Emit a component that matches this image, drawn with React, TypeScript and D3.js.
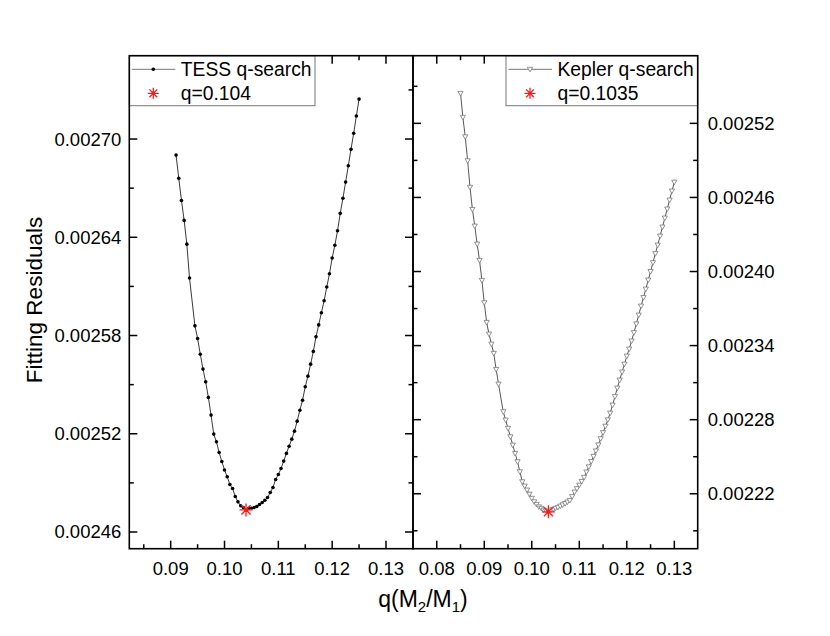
import React from "react";
import * as d3 from "d3";

// TESS q-search (left panel)
const tessQ = [
  0.091, 0.0915, 0.092, 0.0925, 0.093, 0.0935, 0.0945, 0.095, 0.0955, 0.096,
  0.0965, 0.097, 0.0975, 0.098, 0.0985, 0.099, 0.0995, 0.1, 0.1005, 0.101,
  0.1015, 0.102, 0.1025, 0.103, 0.1035, 0.104, 0.1045, 0.105, 0.1055, 0.106,
  0.1065, 0.107, 0.1075, 0.108, 0.1085, 0.109, 0.1095, 0.11, 0.1105, 0.111,
  0.1115, 0.112, 0.1125, 0.113, 0.1135, 0.114, 0.1145, 0.115, 0.1155, 0.116,
  0.1165, 0.117, 0.1175, 0.118, 0.1185, 0.119, 0.1195, 0.12, 0.1205, 0.121,
  0.1215, 0.122, 0.1225, 0.123, 0.1235, 0.124, 0.1245, 0.125,
];
const tessResidual = [
  0.0026902, 0.002676, 0.0026625, 0.0026503, 0.0026358, 0.0026151, 0.0025859, 0.0025782, 0.0025686, 0.0025595,
  0.0025517, 0.0025422, 0.0025314, 0.0025198, 0.0025151, 0.0025086, 0.0025031, 0.0024979, 0.0024937, 0.002489,
  0.0024866, 0.0024817, 0.0024784, 0.002476, 0.002475, 0.0024735, 0.0024744, 0.0024745, 0.002475, 0.0024756,
  0.0024768, 0.002478, 0.0024794, 0.0024811, 0.0024841, 0.0024872, 0.0024921, 0.0024951, 0.0024988, 0.0025033,
  0.002508, 0.0025124, 0.0025167, 0.0025216, 0.0025277, 0.0025344, 0.0025405, 0.0025487, 0.0025552, 0.0025625,
  0.0025703, 0.0025792, 0.0025865, 0.0025939, 0.0026012, 0.0026096, 0.0026177, 0.0026273, 0.0026351, 0.002644,
  0.0026546, 0.0026638, 0.0026737, 0.0026837, 0.0026937, 0.0027035, 0.0027141, 0.0027244,
];

// Kepler q-search (right panel)
const keplerQ = [
  0.085, 0.0855, 0.086, 0.0865, 0.087, 0.0875, 0.088, 0.0885, 0.089, 0.0895,
  0.09, 0.0905, 0.091, 0.0915, 0.092, 0.0925, 0.093, 0.094, 0.0945, 0.095,
  0.0955, 0.096, 0.0965, 0.097, 0.0975, 0.098, 0.0985, 0.099, 0.0995, 0.1,
  0.1005, 0.101, 0.1015, 0.102, 0.1025, 0.103, 0.1035, 0.104, 0.1045, 0.105,
  0.1055, 0.106, 0.1065, 0.107, 0.1075, 0.108, 0.1085, 0.109, 0.1095, 0.11,
  0.1105, 0.111, 0.1115, 0.112, 0.1125, 0.113, 0.1135, 0.114, 0.1145, 0.115,
  0.1155, 0.116, 0.1165, 0.117, 0.1175, 0.118, 0.1185, 0.119, 0.1195, 0.12,
  0.1205, 0.121, 0.1215, 0.122, 0.1225, 0.123, 0.1235, 0.124, 0.1245, 0.125,
  0.1255, 0.126, 0.1265, 0.127, 0.1275, 0.128, 0.1285, 0.129, 0.1295, 0.13,
];
const keplerResidual = [
  0.0025443, 0.0025249, 0.0025091, 0.0024897, 0.0024682, 0.0024503, 0.0024368, 0.0024222, 0.002409, 0.0023928,
  0.0023747, 0.0023588, 0.0023493, 0.0023412, 0.0023337, 0.0023207, 0.0023088, 0.0022864, 0.0022797, 0.002273,
  0.0022661, 0.0022594, 0.0022527, 0.0022459, 0.0022378, 0.0022297, 0.0022262, 0.002223, 0.0022197, 0.0022163,
  0.0022135, 0.0022114, 0.0022094, 0.0022082, 0.0022068, 0.002206, 0.0022054, 0.0022068, 0.0022073, 0.0022082,
  0.002209, 0.00221, 0.002211, 0.0022121, 0.0022133, 0.0022146, 0.0022177, 0.0022214, 0.0022241, 0.002227,
  0.00223, 0.0022333, 0.0022376, 0.0022418, 0.0022461, 0.0022503, 0.0022547, 0.0022596, 0.0022646, 0.0022695,
  0.0022747, 0.0022799, 0.0022853, 0.0022918, 0.0022987, 0.0023056, 0.0023121, 0.0023186, 0.002325, 0.0023315,
  0.0023372, 0.0023437, 0.0023505, 0.0023576, 0.0023647, 0.002372, 0.0023789, 0.0023858, 0.0023931, 0.0024,
  0.0024072, 0.0024145, 0.0024214, 0.0024287, 0.002436, 0.0024433, 0.0024506, 0.0024579, 0.0024652, 0.0024724,
];

const tessBest = [0.104, 0.0024735];
const keplerBest = [0.1035, 0.0022054];

const tessXTicks = [0.09, 0.1, 0.11, 0.12, 0.13];
const tessXMinor = [0.085, 0.095, 0.105, 0.115, 0.125];
const keplerXTicks = [0.08, 0.09, 0.1, 0.11, 0.12, 0.13];
const keplerXMinor = [0.085, 0.095, 0.105, 0.115, 0.125];
const tessYTicks = [0.00246, 0.00252, 0.00258, 0.00264, 0.0027];
const tessYMinor = [0.00249, 0.00255, 0.00261, 0.00267, 0.00273];
const keplerYTicks = [0.00222, 0.00228, 0.00234, 0.0024, 0.00246, 0.00252];
const keplerYMinor = [0.00219, 0.00225, 0.00231, 0.00237, 0.00243, 0.00249, 0.00255];

const FONT = "'Liberation Sans', Arial, Helvetica, sans-serif";
const TOP = 55.7;
const BOTTOM = 548.7;
const MAJOR = 8;
const MINOR = 4.5;

const tessX = d3.scaleLinear().domain([0.08231, 0.13502]).range([129.3, 413]);
const tessY = d3.scaleLinear().domain([0.0024498, 0.0027509]).range([BOTTOM, TOP]);
const keplerX = d3.scaleLinear().domain([0.075, 0.13492]).range([413, 697.7]);
const keplerY = d3.scaleLinear().domain([0.0021755, 0.0025748]).range([BOTTOM, TOP]);

const fmtX = d3.format(".2f");
const fmtY = d3.format(".5f");

const Star = ({ x, y, r, color }) => {
  const d = [0, 45, 90, 135]
    .map(a => {
      const rad = (a * Math.PI) / 180;
      const dx = r * Math.cos(rad), dy = r * Math.sin(rad);
      return `M${x - dx},${y - dy}L${x + dx},${y + dy}`;
    })
    .join("");
  return <path d={d} stroke={color} strokeWidth={1.3} fill="none" />;
};

const Tri = ({ x, y }) => (
  <path
    d={`M${x - 2.6},${y - 2}L${x + 2.6},${y - 2}L${x},${y + 2.6}Z`}
    fill="white"
    stroke="#777"
    strokeWidth={0.8}
  />
);

const Panel = ({ x, y, qs, vals, xTicks, xMinor, yTicks, yMinor, kind, best, side, legendX, legendW, title, bestLabel }) => {
  const [x0, x1] = x.range();
  const line = d3.line().x(d => x(d[0])).y(d => y(d[1]));
  const pts = qs.map((q, i) => [q, vals[i]]);
  return (
    <g>
      <path d={line(pts)} fill="none" stroke={kind === "dot" ? "#222" : "#444"} strokeWidth={0.9} />
      {pts.map((p, i) =>
        kind === "dot" ? (
          <circle key={i} cx={x(p[0])} cy={y(p[1])} r={1.8} fill="#000" />
        ) : (
          <Tri key={i} x={x(p[0])} y={y(p[1])} />
        )
      )}
      <Star x={x(best[0])} y={y(best[1])} r={6.5} color="#ff1a1a" />

      {/* ticks, all pointing inward */}
      {xTicks.map(t => (
        <g key={"xt" + t}>
          <line x1={x(t)} x2={x(t)} y1={BOTTOM} y2={BOTTOM - MAJOR} stroke="#000" strokeWidth={1.5} />
          <line x1={x(t)} x2={x(t)} y1={TOP} y2={TOP + MAJOR} stroke="#000" strokeWidth={1.5} />
          <text x={x(t)} y={574.5} textAnchor="middle" fontSize={18.5} fontFamily={FONT}>
            {fmtX(t)}
          </text>
        </g>
      ))}
      {xMinor.map(t => (
        <g key={"xm" + t}>
          <line x1={x(t)} x2={x(t)} y1={BOTTOM} y2={BOTTOM - MINOR} stroke="#000" strokeWidth={1.5} />
          <line x1={x(t)} x2={x(t)} y1={TOP} y2={TOP + MINOR} stroke="#000" strokeWidth={1.5} />
        </g>
      ))}
      {yTicks.map(t => (
        <g key={"yt" + t}>
          <line x1={x0} x2={x0 + MAJOR} y1={y(t)} y2={y(t)} stroke="#000" strokeWidth={1.5} />
          <line x1={x1} x2={x1 - MAJOR} y1={y(t)} y2={y(t)} stroke="#000" strokeWidth={1.5} />
          <text
            x={side === "left" ? x0 - 8 : x1 + 10}
            y={y(t) + 6.5}
            textAnchor={side === "left" ? "end" : "start"}
            fontSize={18.5}
            fontFamily={FONT}
          >
            {fmtY(t)}
          </text>
        </g>
      ))}
      {yMinor.map(t => (
        <g key={"ym" + t}>
          <line x1={x0} x2={x0 + MINOR} y1={y(t)} y2={y(t)} stroke="#000" strokeWidth={1.5} />
          <line x1={x1} x2={x1 - MINOR} y1={y(t)} y2={y(t)} stroke="#000" strokeWidth={1.5} />
        </g>
      ))}

      {/* legend */}
      <rect x={legendX} y={TOP} width={legendW} height={50} fill="white" stroke="#777" strokeWidth={1} />
      <line x1={legendX + 2.5} x2={legendX + 46} y1={69.3} y2={69.3} stroke="#777" strokeWidth={1} />
      {kind === "dot" ? (
        <circle cx={legendX + 24} cy={69.3} r={1.8} fill="#000" />
      ) : (
        <Tri x={legendX + 24} y={69.3} />
      )}
      <text x={legendX + 51.5} y={76} fontSize={19.3} fontFamily={FONT}>
        {title}
      </text>
      <Star x={legendX + 24} y={93.3} r={5.5} color="#ff1a1a" />
      <text x={legendX + 51.5} y={99.5} fontSize={19.3} fontFamily={FONT}>
        {bestLabel}
      </text>

      <rect x={x0} y={TOP} width={x1 - x0} height={BOTTOM - TOP} fill="none" stroke="#000" strokeWidth={1.6} />
    </g>
  );
};

export default function App() {
  return (
    <svg
      width={830}
      height={636}
      style={{ position: "absolute", left: 0, top: 0, background: "white" }}
    >
      <rect width={830} height={636} fill="white" />
      <Panel
        x={tessX}
        y={tessY}
        qs={tessQ}
        vals={tessResidual}
        xTicks={tessXTicks}
        xMinor={tessXMinor}
        yTicks={tessYTicks}
        yMinor={tessYMinor}
        kind="dot"
        best={tessBest}
        side="left"
        legendX={129.3}
        legendW={185.7}
        title="TESS q-search"
        bestLabel="q=0.104"
      />
      <Panel
        x={keplerX}
        y={keplerY}
        qs={keplerQ}
        vals={keplerResidual}
        xTicks={keplerXTicks}
        xMinor={keplerXMinor}
        yTicks={keplerYTicks}
        yMinor={keplerYMinor}
        kind="tri"
        best={keplerBest}
        side="right"
        legendX={506}
        legendW={191.7}
        title="Kepler q-search"
        bestLabel="q=0.1035"
      />
      <text
        transform="translate(42,300) rotate(-90)"
        textAnchor="middle"
        fontSize={22.5}
        fontFamily={FONT}
      >
        Fitting Residuals
      </text>
      <text x={423} y={607} textAnchor="middle" fontSize={23} fontFamily={FONT}>
        q(M
        <tspan fontSize={15} dy={5}>2</tspan>
        <tspan dy={-5}>/M</tspan>
        <tspan fontSize={15} dy={5}>1</tspan>
        <tspan dy={-5}>)</tspan>
      </text>
    </svg>
  );
}
